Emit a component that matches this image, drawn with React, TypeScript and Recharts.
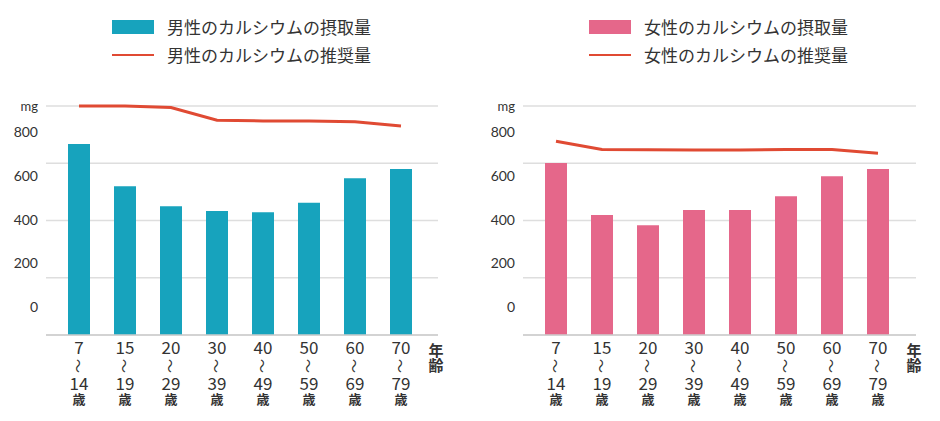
import React from 'react';
import { ComposedChart, Bar, Line, XAxis, YAxis, CartesianGrid, ReferenceLine } from 'recharts';

const ageFrom = ['7', '15', '20', '30', '40', '50', '60', '70'];
const ageTo = ['14', '19', '29', '39', '49', '59', '69', '79'];
const yTicks = [0, 200, 400, 600, 800];

const maleIntake = [667, 520, 450, 433, 429, 462, 548, 580];
const maleRecommended = [800, 800, 795, 750, 748, 748, 745, 730];
const femaleIntake = [601, 419, 383, 437, 437, 485, 555, 580];
const femaleRecommended = [677, 648, 647, 646, 646, 648, 648, 635];

const maleNames = ['男性のカルシウムの摂取量', '男性のカルシウムの推奨量'];
const femaleNames = ['女性のカルシウムの摂取量', '女性のカルシウムの推奨量'];

const JP = '"Noto Sans CJK JP", "Noto Sans", sans-serif';
const LATIN = 'Lato, "Noto Sans", sans-serif';
const TEXT = '#333333';
const LINE_COLOR = '#e04a33';

const buildData = (intake: number[], rec: number[]) =>
  ageFrom.map((f, i) => ({ from: f, to: ageTo[i], intake: intake[i], rec: rec[i] }));

const AgeTick = (props: any) => {
  const { x, y, index } = props;
  return (
    <g fill={TEXT}>
      <text x={x} y={y + 19} textAnchor="middle" fontSize={17} fontFamily={JP} fill={TEXT}>
        {ageFrom[index]}
      </text>
      <text
        x={x}
        y={y + 31}
        textAnchor="middle"
        dominantBaseline="central"
        fontSize={14}
        fontFamily={JP}
        fill={TEXT}
        transform={`rotate(90, ${x}, ${y + 31})`}
      >
        〜
      </text>
      <text x={x} y={y + 55} textAnchor="middle" fontSize={17} fontFamily={JP} fill={TEXT}>
        {ageTo[index]}
      </text>
      <text x={x} y={y + 69} textAnchor="middle" fontSize={13} fontWeight={700} fontFamily={JP} fill={TEXT}>
        歳
      </text>
    </g>
  );
};

type PanelProps = {
  left: number;
  intake: number[];
  rec: number[];
  barColor: string;
  names: string[];
  labelWidth: number;
  marginRight: number;
  padRight: number;
  legendLeft: number;
};

const Panel = ({ left, intake, rec, barColor, names, labelWidth, marginRight, padRight, legendLeft }: PanelProps) => {
  const data = buildData(intake, rec);
  const plotRight = 470 - marginRight;
  return (
    <div style={{ position: 'absolute', left, top: 0, width: 470, height: 421 }}>
      <div style={{ position: 'absolute', left: legendLeft, top: 17, fontFamily: JP, fontSize: 17, color: TEXT }}>
        <div style={{ display: 'flex', alignItems: 'center', height: 20 }}>
          <div style={{ width: 42, height: 14, background: barColor, marginRight: 13 }} />
          <span style={{ lineHeight: '20px' }}>{names[0]}</span>
        </div>
        <div style={{ display: 'flex', alignItems: 'center', height: 20, marginTop: 8 }}>
          <div style={{ width: 42, height: 2, background: LINE_COLOR, marginRight: 13 }} />
          <span style={{ lineHeight: '20px' }}>{names[1]}</span>
        </div>
      </div>
      <div
        style={{
          position: 'absolute',
          left: plotRight - 12,
          top: 342,
          fontFamily: JP,
          fontSize: 15,
          fontWeight: 700,
          color: TEXT,
          lineHeight: '15px',
          width: 20,
          textAlign: 'center',
        }}
      >
        年<br />齢
      </div>
      <ComposedChart
        width={470}
        height={421}
        data={data}
        margin={{ top: 106, right: marginRight, bottom: 0, left: 0 }}
        style={{ position: 'absolute', left: 0, top: 0 }}
      >
        <CartesianGrid yAxisId="main" vertical={false} stroke="#dedede" strokeWidth={1.5} />
        <YAxis yAxisId="main" hide domain={[0, 800]} ticks={yTicks} />
        <YAxis
          yAxisId="labels"
          width={labelWidth}
          domain={[-128, 921]}
          allowDataOverflow
          ticks={yTicks}
          axisLine={false}
          tickLine={false}
          tick={{ fill: TEXT, fontSize: 14, fontFamily: LATIN }}
        />
        <XAxis
          dataKey="from"
          height={86}
          padding={{ left: 10, right: padRight }}
          tickLine={false}
          tickSize={0}
          tickMargin={0}
          axisLine={{ stroke: '#cccccc', strokeWidth: 1.5 }}
          interval={0}
          tick={<AgeTick />}
        />
        <ReferenceLine
          yAxisId="main"
          y={800}
          stroke="none"
          label={{ value: 'mg', position: 'left', offset: 8, fill: TEXT, fontSize: 13, fontFamily: LATIN }}
        />
        <Bar yAxisId="main" dataKey="intake" name={names[0]} fill={barColor} barSize={22} isAnimationActive={false} />
        <Line
          yAxisId="main"
          dataKey="rec"
          name={names[1]}
          type="linear"
          stroke={LINE_COLOR}
          strokeWidth={3}
          dot={false}
          activeDot={false}
          isAnimationActive={false}
        />
      </ComposedChart>
    </div>
  );
};

export default function App() {
  return (
    <div style={{ position: 'absolute', left: 0, top: 0, width: 940, height: 421, background: '#ffffff' }}>
      <Panel
        left={0}
        intake={maleIntake}
        rec={maleRecommended}
        barColor="#17a3bd"
        names={maleNames}
        labelWidth={46}
        marginRight={32}
        padRight={14}
        legendLeft={112}
      />
      <Panel
        left={470}
        intake={femaleIntake}
        rec={femaleRecommended}
        barColor="#e5678a"
        names={femaleNames}
        labelWidth={53}
        marginRight={24}
        padRight={15}
        legendLeft={119}
      />
    </div>
  );
}
